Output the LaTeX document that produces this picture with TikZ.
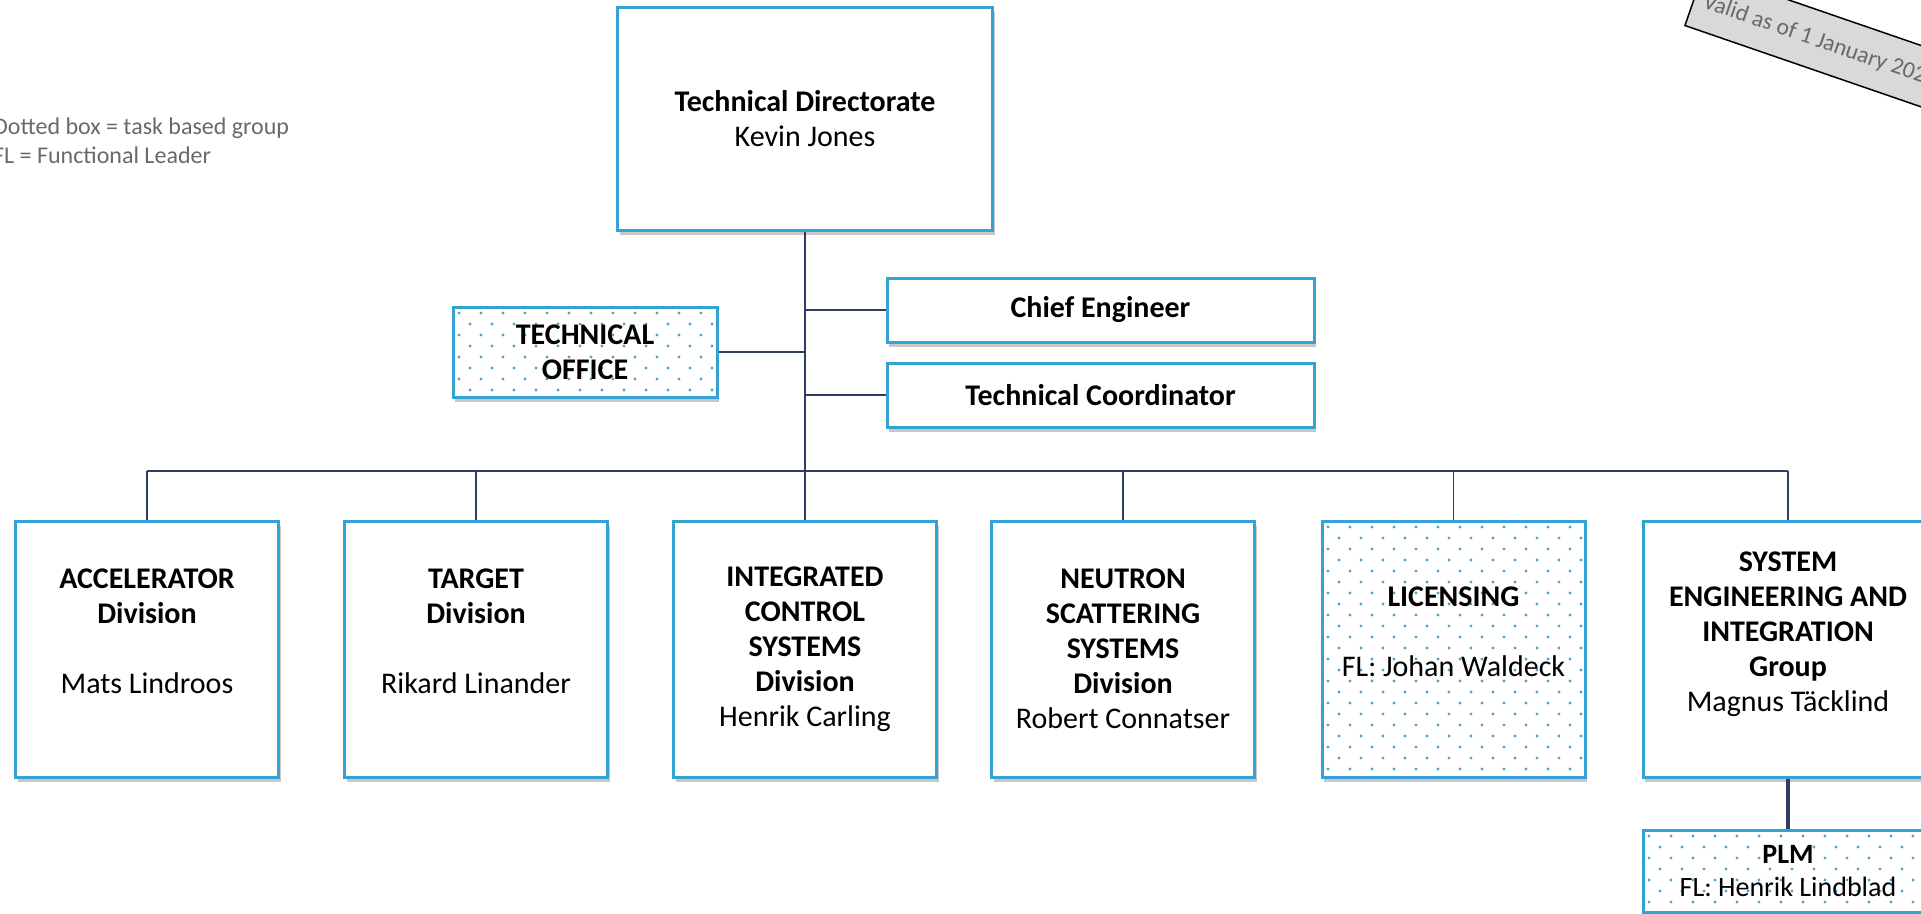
\documentclass[tikz,border=0pt]{standalone}
\usepackage{fontspec}
\setmainfont{Carlito}
\usepackage{tikz}
\usepackage{xcolor}
\usetikzlibrary{shadows}
\definecolor{BoxBlue}{RGB}{52,163,211}
\definecolor{DotBlue}{RGB}{70,168,210}
\definecolor{LineBlue}{RGB}{45,62,98}
\definecolor{LegendGrey}{RGB}{105,105,105}
\definecolor{StampGrey}{RGB}{217,217,217}
\tikzset{
OrgBox/.style={
 draw=BoxBlue, 
 line width=3pt, 
 fill=white, 
 align=center, 
 inner sep=0pt, 
 font=\fontsize{30}{35}\selectfont, 
 drop shadow={shadow xshift=2pt, shadow yshift=-5pt, fill=black, opacity=0.22}
 },
DotBox/.style={
 OrgBox, 
 path picture={
  \coordinate (pp) at (path picture bounding box.north west);
  \foreach \row in {0,...,26}{
   \foreach \col in {0,...,14}{
    \fill[DotBlue] ([shift={({\col*22+mod(\row,2)*11+6},{\row*11+6})}]pp) circle (1.7pt);
   }
  }
 }
 },
DivSize/.style={
 minimum width=263pt, 
 minimum height=256pt
 },
OrgLine/.style={
 draw=LineBlue, 
 line width=1.5pt
 },
Legend/.style={
 text=LegendGrey, 
 align=left, 
 inner sep=0pt, 
 font=\fontsize{24}{29}\selectfont
 },
Stamp/.style={
 draw=black, 
 line width=1.5pt, 
 fill=StampGrey, 
 text=LegendGrey, 
 minimum height=58pt, 
 inner xsep=10pt, 
 font=\fontsize{23.5}{28}\selectfont
 }
}
\begin{document}
\begin{tikzpicture}[x=1pt,y=-1pt]
\useasboundingbox (0,0) rectangle (1921,913);
\node[Legend, anchor=west] (legend) at (-7,141) {Dotted box = task based group\\FL = Functional Leader};
\node[Stamp, anchor=south west, rotate=-19] (valid) at (1684,26) {Valid as of 1 January 2023};
\node[OrgBox, minimum width=375pt, minimum height=223pt] (td) at (805,118.5) {\textbf{Technical Directorate}\\Kevin Jones};
\node[OrgBox, minimum width=427pt, minimum height=64pt] (chief) at (1100.5,310) {\textbf{Chief Engineer}};
\node[OrgBox, minimum width=427pt, minimum height=64pt] (coord) at (1100.5,395) {\textbf{Technical Coordinator}};
\node[DotBox, minimum width=264pt, minimum height=90pt] (office) at (585,352) {\textbf{TECHNICAL}\\\textbf{OFFICE}};
\node[OrgBox, DivSize] (acc) at (147,649) {\textbf{ACCELERATOR}\\\textbf{Division}\\~\\Mats Lindroos\\~};
\node[OrgBox, DivSize] (tgt) at (476,649) {\textbf{TARGET}\\\textbf{Division}\\~\\Rikard Linander\\~};
\node[OrgBox, DivSize] (ics) at (805,649) {\textbf{INTEGRATED}\\\textbf{CONTROL}\\\textbf{SYSTEMS}\\\textbf{Division}\\Henrik Carling};
\node[OrgBox, DivSize] (nss) at (1123,649) {\textbf{NEUTRON}\\\textbf{SCATTERING}\\\textbf{SYSTEMS}\\\textbf{Division}\\Robert Connatser};
\node[DotBox, DivSize] (lic) at (1453.5,649) {\textbf{LICENSING}\\~\\FL: Johan Waldeck\\~};
\node[OrgBox, DivSize, minimum width=290pt] (sei) at (1788,649) {\textbf{SYSTEM}\\\textbf{ENGINEERING AND}\\\textbf{INTEGRATION}\\\textbf{Group}\\Magnus Täcklind\\~};
\node[DotBox, minimum width=290pt, minimum height=82pt, font=\fontsize{28}{33}\selectfont] (plm) at (1788,871) {\textbf{PLM}\\FL: Henrik Lindblad};
\coordinate (bus) at (805,471);
\draw[OrgLine] (td.south) -- (bus);
\draw[OrgLine] (acc.north |- bus) -- (sei.north |- bus);
\foreach \n in {acc,tgt,ics,nss,lic,sei}
 \draw[OrgLine] (\n.north) -- (\n.north |- bus);
\draw[OrgLine] (chief.west) -- (chief.west -| bus);
\draw[OrgLine] (coord.west) -- (coord.west -| bus);
\draw[OrgLine] (office.east) -- (office.east -| bus);
\draw[OrgLine, line width=3.5pt] (sei.south) -- (plm.north);
\end{tikzpicture}
\end{document}
